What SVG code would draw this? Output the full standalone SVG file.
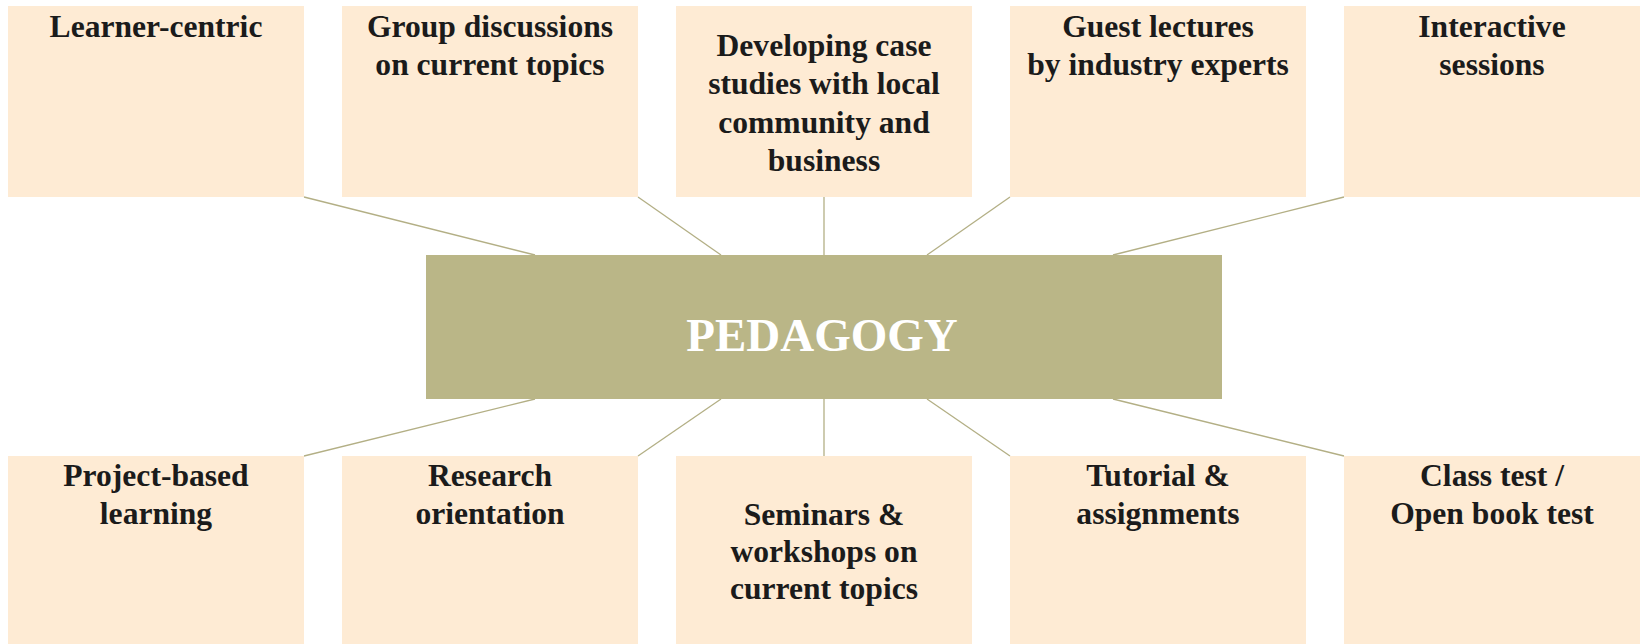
<svg xmlns="http://www.w3.org/2000/svg" width="1640" height="644" viewBox="0 0 1640 644">
<style>
.box{fill:#FEEBD4}
.hub{fill:#BAB687}
.t{font-family:"Liberation Serif","Times New Roman",serif;font-weight:bold;font-size:31.6px;fill:#1b1b1b;text-anchor:middle}
.ht{font-family:"Liberation Serif","Times New Roman",serif;font-weight:bold;font-size:47px;fill:#ffffff;text-anchor:middle}
.c{stroke:#B3AF85;stroke-width:1.3;fill:none}
</style>
<rect width="1640" height="644" fill="#ffffff"/>
<g id="connectors">
<line class="c" x1="304" y1="197" x2="535" y2="255"/>
<line class="c" x1="638" y1="197" x2="721" y2="255"/>
<line class="c" x1="824" y1="197" x2="824" y2="255"/>
<line class="c" x1="1010" y1="197" x2="927" y2="255"/>
<line class="c" x1="1344" y1="197" x2="1113" y2="255"/>
<line class="c" x1="304" y1="456" x2="535" y2="399"/>
<line class="c" x1="638" y1="456" x2="721" y2="399"/>
<line class="c" x1="824" y1="456" x2="824" y2="399"/>
<line class="c" x1="1010" y1="456" x2="927" y2="399"/>
<line class="c" x1="1344" y1="456" x2="1113" y2="399"/>
</g>
<g id="hub">
<rect class="hub" x="426" y="255" width="796" height="144"/>
<text class="ht" x="822" y="351">PEDAGOGY</text>
</g>
<g id="n1">
<rect class="box" x="8" y="6" width="296" height="191"/>
<text class="t" x="156" y="37">Learner-centric</text>
</g>
<g id="n2">
<rect class="box" x="342" y="6" width="296" height="191"/>
<text class="t" x="490" y="37">Group discussions</text>
<text class="t" x="490" y="75">on current topics</text>
</g>
<g id="n3">
<rect class="box" x="676" y="6" width="296" height="191"/>
<text class="t" x="824" y="56">Developing case</text>
<text class="t" x="824" y="94">studies with local</text>
<text class="t" x="824" y="133">community and</text>
<text class="t" x="824" y="171">business</text>
</g>
<g id="n4">
<rect class="box" x="1010" y="6" width="296" height="191"/>
<text class="t" x="1158" y="37">Guest lectures</text>
<text class="t" x="1158" y="75">by industry experts</text>
</g>
<g id="n5">
<rect class="box" x="1344" y="6" width="296" height="191"/>
<text class="t" x="1492" y="37">Interactive</text>
<text class="t" x="1492" y="75">sessions</text>
</g>
<g id="n6">
<rect class="box" x="8" y="456" width="296" height="191"/>
<text class="t" x="156" y="486">Project-based</text>
<text class="t" x="156" y="524">learning</text>
</g>
<g id="n7">
<rect class="box" x="342" y="456" width="296" height="191"/>
<text class="t" x="490" y="486">Research</text>
<text class="t" x="490" y="524">orientation</text>
</g>
<g id="n8">
<rect class="box" x="676" y="456" width="296" height="191"/>
<text class="t" x="824" y="525">Seminars &amp;</text>
<text class="t" x="824" y="562">workshops on</text>
<text class="t" x="824" y="599">current topics</text>
</g>
<g id="n9">
<rect class="box" x="1010" y="456" width="296" height="191"/>
<text class="t" x="1158" y="486">Tutorial &amp;</text>
<text class="t" x="1158" y="524">assignments</text>
</g>
<g id="n10">
<rect class="box" x="1344" y="456" width="296" height="191"/>
<text class="t" x="1492" y="486">Class test /</text>
<text class="t" x="1492" y="524">Open book test</text>
</g>
</svg>
